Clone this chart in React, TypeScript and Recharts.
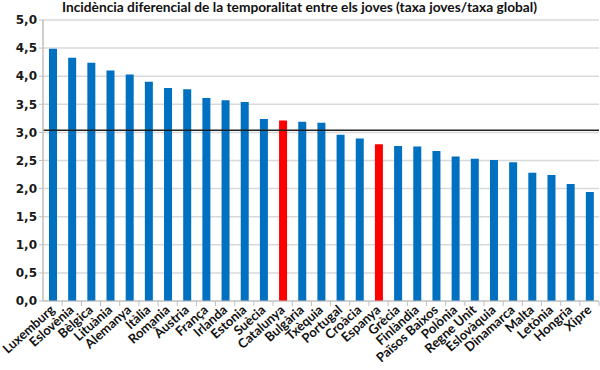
import React from "react";
import {
  BarChart,
  Bar,
  XAxis,
  YAxis,
  CartesianGrid,
  ReferenceLine,
  Cell,
} from "recharts";

const countries = [
  "Luxemburg", "Eslovènia", "Bèlgica", "Lituània", "Alemanya", "Itàlia",
  "Romania", "Àustria", "França", "Irlanda", "Estonia", "Suècia",
  "Catalunya", "Bulgària", "Txèquia", "Portugal", "Croàcia", "Espanya",
  "Grècia", "Finlàndia", "Països Baixos", "Polònia", "Regne Unit",
  "Eslovàquia", "Dinamarca", "Malta", "Letònia", "Hongria", "Xipre",
];

const ratios = [
  4.49, 4.33, 4.24, 4.10, 4.03, 3.90, 3.79, 3.77, 3.61, 3.57, 3.54, 3.24,
  3.21, 3.19, 3.17, 2.96, 2.89, 2.79, 2.76, 2.75, 2.67, 2.57, 2.53, 2.51,
  2.47, 2.28, 2.24, 2.08, 1.94,
];

const highlighted = ["Catalunya", "Espanya"];
const yTicks = [0, 0.5, 1, 1.5, 2, 2.5, 3, 3.5, 4, 4.5, 5];
const overallLine = 3.04;

const title =
  "Incidència diferencial de la temporalitat entre els joves (taxa joves/taxa global)";

const data = countries.map((name, i) => ({ name, value: ratios[i] }));

const W = 600;
const H = 370;
const AXIS_W = 43;
const BAND = (W - AXIS_W) / countries.length;

// etiqueta girada + marca de separació entre categories (estil Excel)
const CountryTick = (props: any) => {
  const { x, y, payload } = props;
  const ax = x + 3;
  const ay = y + 2;
  return (
    <g>
      <line
        x1={x + BAND / 2}
        x2={x + BAND / 2}
        y1={y - 8}
        y2={y - 3}
        stroke="#BFBFBF"
        strokeWidth={1}
      />
      <text
        x={ax}
        y={ay}
        textAnchor="end"
        transform={`rotate(-42 ${ax} ${ay})`}
        fontFamily="Lato, sans-serif"
        fontWeight="bold"
        fontSize={13}
        fill="#111"
      >
        {payload.value}
      </text>
    </g>
  );
};

export default function App() {
  return (
    <div
      style={{
        position: "fixed",
        top: 0,
        left: 0,
        width: W,
        height: H,
        background: "#fff",
      }}
    >
      <BarChart
        width={W}
        height={H}
        data={data}
        margin={{ top: 20, right: 1, left: 0, bottom: 0 }}
        barCategoryGap={0}
      >
        <CartesianGrid
          vertical={false}
          stroke="#D9D9D9"
          strokeWidth={1.5}
        />
        <XAxis
          dataKey="name"
          interval={0}
          height={69}
          axisLine={{ stroke: "#BFBFBF" }}
          tickLine={false}
          tick={<CountryTick />}
        />
        <YAxis
          domain={[0, 5]}
          ticks={yTicks}
          width={AXIS_W}
          interval={0}
          axisLine={{ stroke: "#BFBFBF", strokeWidth: 1.5 }}
          tickLine={{ stroke: "#BFBFBF" }}
          tickSize={4}
          tickFormatter={(v: number) => v.toFixed(1).replace(".", ",")}
          tick={{
            fontFamily: "DejaVu Sans, sans-serif",
            fontWeight: "bold",
            fontSize: 12,
            fill: "#1a1a1a",
          }}
        />
        <Bar dataKey="value" barSize={8} isAnimationActive={false}>
          {data.map((d) => (
            <Cell
              key={d.name}
              fill={highlighted.includes(d.name) ? "#FF0000" : "#0070C0"}
            />
          ))}
        </Bar>
        <ReferenceLine
          y={overallLine}
          stroke="#222"
          strokeWidth={1.5}
          ifOverflow="extendDomain"
        />
      </BarChart>
      <svg
        width={W}
        height={20}
        style={{ position: "absolute", top: 0, left: 0, pointerEvents: "none" }}
      >
        <text
          x={62}
          y={12}
          textLength={475}
          lengthAdjust="spacingAndGlyphs"
          fontFamily="Lato, sans-serif"
          fontWeight="bold"
          fontSize={13}
          fill="#111"
        >
          {title}
        </text>
      </svg>
    </div>
  );
}
